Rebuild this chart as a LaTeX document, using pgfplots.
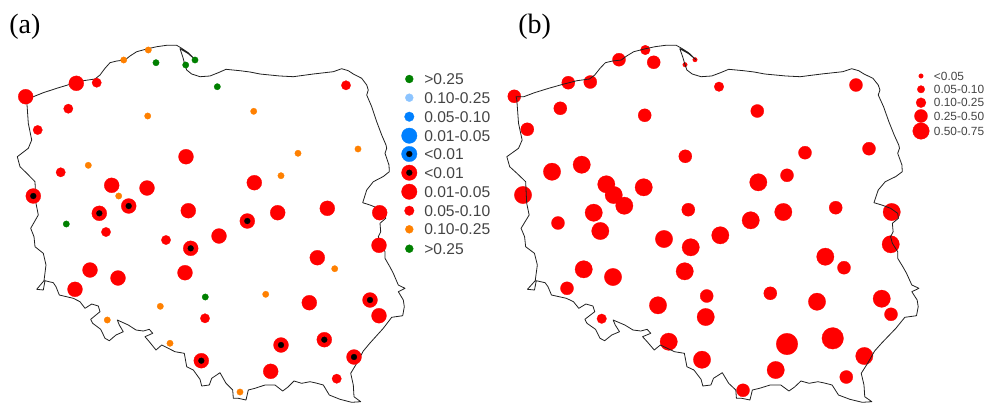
\documentclass[border=0pt]{standalone}
\usepackage{pgfplots}
\usepackage{fontspec}
\setmainfont{Liberation Sans}
\newfontfamily\timesf{Liberation Serif}
\pgfplotsset{compat=1.18}
\usepackage{pgfplotstable}
\definecolor{cred}{HTML}{FF0000}
\definecolor{corange}{HTML}{FF8000}
\definecolor{cgreen}{HTML}{008000}
\definecolor{cblue}{HTML}{0080FF}
\definecolor{clight}{HTML}{8CC4FF}
\definecolor{ctext}{HTML}{444444}
\definecolor{cline}{HTML}{202020}
\pgfplotstableread{
x y
33.3 96.7
43.3 92.7
56.7 88.3
70 84.3
83.3 80.7
95 79
100 75
105 68.3
110 62.7
116.7 61
125 60
130 56
136.7 51.7
146.7 49
156.7 46.7
166.7 45.3
176.7 45.3
181.7 48.3
188.3 52.7
195 59.5
188 53.5
180 48.7
182.7 56.7
185 65
186.7 70
191.7 74
200 76.7
210 76
218.3 72.7
226 69.3
240 70.7
250 72
260 74
280 76
293.3 76.7
313.3 74
333.3 71.7
341.7 68.7
348.3 70.7
353.3 74
361.7 78.3
366.7 85
368.3 90
366.7 95
371.7 106.7
376.7 121.7
381.7 135
386 145
386.7 148.3
385 153.3
389 165
389.3 171.7
383.3 176.5
373.3 181.7
366.7 190
362.7 202.7
370 205
378.3 208.3
385 213.3
385.7 218.3
380 223.3
380.7 231.7
378.3 236.7
380 243.3
385 251.7
385 258.3
390 267
393.3 273.3
398.3 285
405 288.3
398.3 291.7
403.3 300
404.3 306.7
402.7 315.7
391.7 317.3
383.3 328.3
370 343
363.3 351
356.7 363.3
350.7 373.3
353.3 385
354 396.7
360.7 401.7
351.7 402.3
340 399.3
329.3 395
323.3 385
316 383
310 381.7
301.7 383.3
294 381
288 387
282.7 391
275 385
265 385
255 388.3
248.3 390
246 400
238.3 398.3
233.3 398.3
232.7 390
226 383.3
220 372.7
211.7 378.3
209.3 385
201.7 386
200 379.3
193.3 370
186.7 366.7
184.3 353.3
175 351.7
168.3 348.3
161.7 345
156 350
149.3 341.7
145 336.7
152.7 333.3
149.3 329.3
143.3 331
136 330
128.3 325
117.3 320
119.3 325
123.3 331.7
116 335
109.3 340.7
105 338.3
100.7 329.3
92.7 323.3
90.7 319.3
100 311.7
98.3 306
91.7 304
85 308.3
80 301.7
73.3 298.3
59.3 295
56 286.7
53.3 282.7
45 280.7
43.3 290
36.7 289.3
44 280.7
46 265
43.3 253.3
35 246.7
34 236.7
30.7 228.3
38.3 215
36 203.3
35 181.7
27 173.5
20 166.7
17.3 156.7
28.3 148.3
31.7 140
28.3 123.3
26.7 100
26 96.7
33.3 96.7
}\outline
\pgfplotsset{
  canvas/.style={
    at={(0,0)}, anchor=south west, scale only axis, width=738pt, height=303pt,
    y dir=reverse, ymin=0, ymax=404, hide axis, clip=false},
  pts/.style n args={2}{only marks, mark=*, mark size=#2, color=#1, mark options={draw=#1, fill=#1, line width=0.2pt}},
  border/.style={no markers, color=cline, line width=0.6pt, line join=round}
}
\tikzset{
  ltxt/.style={anchor=west, text=ctext, font=\fontsize{11.7pt}{13pt}\selectfont, inner sep=0pt},
  rtxt/.style={anchor=west, text=ctext, font=\fontsize{8.9pt}{10pt}\selectfont, inner sep=0pt},
  ptxt/.style={anchor=base west, font=\fontsize{21pt}{24pt}\selectfont\timesf, inner sep=0pt}
}
\begin{document}
\begin{tikzpicture}
\path[use as bounding box] (0,0) rectangle (738pt,303pt);
\begin{axis}[canvas, xmin=0, xmax=984]
% ---------- panel (a): large red
\addplot[pts={cred}{5.6pt}] coordinates {
(25.7,96.7)(76.3,83.3)(186,156.7)(111.7,185.3)(147,188)(188.3,210.7)(219,236)
(90,270)(118,278)(75,289.3)(185,272.7)(254.3,182.7)(277.7,212.7)(327.3,208.3)
(379.7,212.7)(379,245.3)(317.3,257.7)(309.3,302.7)(379,315.7)(270.7,371.3)};
% red with black centre
\addplot[pts={cred}{5.6pt}] coordinates {
(33.3,196)(99.3,213.3)(128.7,206)(190.7,248.3)(247.3,221)(201.3,360.7)
(370,300)(281,345)(324.3,339.7)(354,357)};
\addplot[pts={black}{2.2pt}] coordinates {
(33.3,196)(99.3,213.3)(128.7,206)(190.7,248.3)(247.3,221)(201.3,360.7)
(370,300)(281,345)(324.3,339.7)(354,357)};
% medium red
\addplot[pts={cred}{3.5pt}] coordinates {
(96.7,82.7)(68.3,108.7)(37.7,130)(60.7,172.3)(106,232)(166,240)(205,318.3)
(346,85.3)(336.7,378.7)};
% orange
\addplot[pts={corange}{2.4pt}] coordinates {
(123.7,60)(148.3,50)(147.7,116)(88.3,165.3)(118.7,196)(253.7,111.3)(298,153.3)
(358,149)(281,175.7)(334.7,268.7)(265.7,294.3)(160.3,306.3)(107.3,320)(170,343.3)(240,392)};
% green
\addplot[pts={cgreen}{2.4pt}] coordinates {
(156,62.7)(185.7,65)(195,60)(217.3,86.7)(66.3,224)(205.3,297)};
% ---------- legend (a)
\addplot[pts={cgreen}{3pt}] coordinates {(409.3,79)(409.3,248.7)};
\addplot[pts={clight}{3pt}] coordinates {(409.3,97.7)};
\addplot[pts={cblue}{3.6pt}] coordinates {(409.3,116.7)};
\addplot[pts={cblue}{5.8pt}] coordinates {(409.3,135.7)(409.3,154)};
\addplot[pts={cred}{5.8pt}] coordinates {(409.3,172.7)(409.3,191.7)};
\addplot[pts={black}{2.2pt}] coordinates {(409.3,154)(409.3,172.7)};
\addplot[pts={cred}{3.6pt}] coordinates {(409.3,210.7)};
\addplot[pts={corange}{3pt}] coordinates {(409.3,229.3)};
\node[ltxt] at (axis cs:424,79) {>0.25};
\node[ltxt] at (axis cs:424,97.7) {0.10-0.25};
\node[ltxt] at (axis cs:424,116.7) {0.05-0.10};
\node[ltxt] at (axis cs:424,135.7) {0.01-0.05};
\node[ltxt] at (axis cs:424,154) {<0.01};
\node[ltxt] at (axis cs:424,172.7) {<0.01};
\node[ltxt] at (axis cs:424,191.7) {0.01-0.05};
\node[ltxt] at (axis cs:424,210.7) {0.05-0.10};
\node[ltxt] at (axis cs:424,229.3) {0.10-0.25};
\node[ltxt] at (axis cs:424,248.7) {>0.25};
% ---------- panel (b)
\addplot[pts={cred}{8.1pt}] coordinates {(787,344)(832.7,338.3)};
\addplot[pts={cred}{6.5pt}] coordinates {
(552,171.7)(581.7,164.7)(606.3,184.3)(643.7,187.3)(523,195)(613.7,195)(624.3,205.7)
(593.7,212.7)(600.3,231)(664,239)(690.7,247.3)(720.3,235.3)(583.7,269.3)(613,277)
(684.7,271.3)(658,305.3)(705.7,317)(668.7,341.7)(702,359.7)(758.3,182.3)(750.7,220.3)
(783.3,212)(891.7,212)(890.7,244.3)(825.3,256.7)(817,301.7)(881.7,298.7)(864.3,356)(775.7,370)};
\addplot[pts={cred}{4.9pt}] coordinates {
(514.3,96.3)(568.3,82.7)(590.3,82)(619,59.7)(653.7,62.3)(560.3,108.3)(527.3,129.3)
(644.7,115.3)(685.3,156.3)(558,223)(688.3,209.7)(567,288.3)(706.7,296)(743,390.3)
(856,85)(757.3,111)(805,152.7)(869,148.7)(787,175.3)(835.7,207.7)(844,267.7)
(770.3,293.3)(891,314.3)(846.3,377)};
\addplot[pts={cred}{3.6pt}] coordinates {(645.3,50)(719,86.7)(601.7,318.7)};
\addplot[pts={cred}{1.7pt}] coordinates {(685,64.7)(695,59.7)};
% ---------- legend (b)
\addplot[pts={cred}{1.7pt}] coordinates {(921,76)};
\addplot[pts={cred}{2.8pt}] coordinates {(921,89.3)};
\addplot[pts={cred}{3.7pt}] coordinates {(921,102.7)};
\addplot[pts={cred}{4.9pt}] coordinates {(921,116)};
\addplot[pts={cred}{6.2pt}] coordinates {(921,131)};
\node[rtxt] at (axis cs:933.7,76) {<0.05};
\node[rtxt] at (axis cs:933.7,89.3) {0.05-0.10};
\node[rtxt] at (axis cs:933.7,102.7) {0.10-0.25};
\node[rtxt] at (axis cs:933.7,116) {0.25-0.50};
\node[rtxt] at (axis cs:933.7,131) {0.50-0.75};
% ---------- labels and outline (a)
\node[ptxt] at (axis cs:9,33) {(a)};
\node[ptxt] at (axis cs:518,33) {(b)};
\addplot[border] table[x=x,y=y] {\outline};
\end{axis}
% outline (b): same border, on a slightly wider x scale
\begin{axis}[canvas, xmin=-459.5, xmax=466.2]
\addplot[border] table[x=x,y=y] {\outline};
\end{axis}
\end{tikzpicture}
\end{document}
